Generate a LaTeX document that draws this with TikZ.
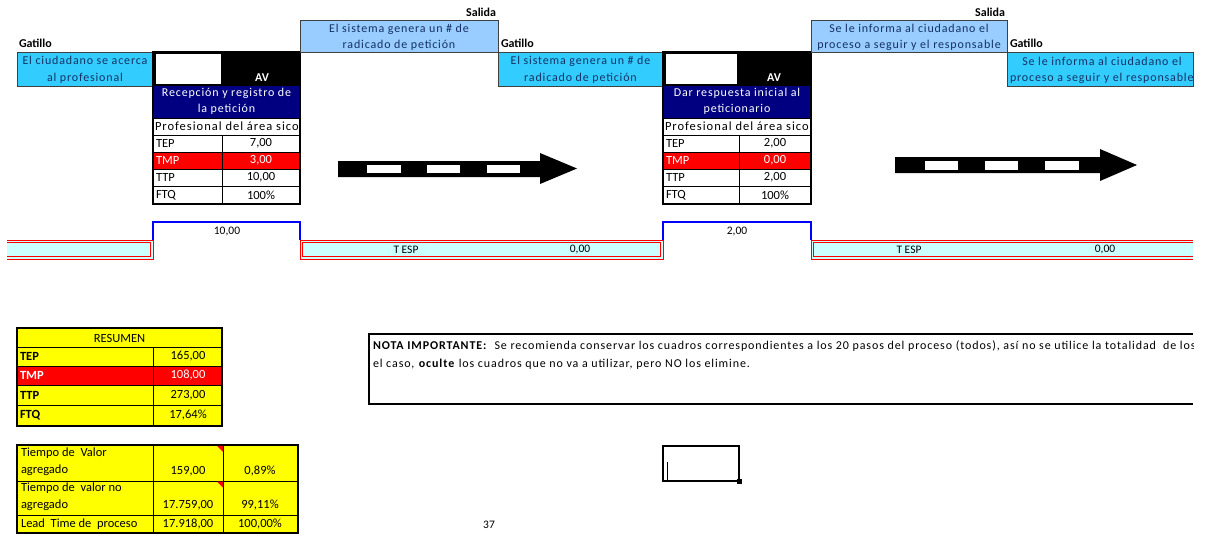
\documentclass[tikz,border=0pt]{standalone}
\usepackage{fontspec}
\setmainfont{Carlito}
\newfontfamily\lsfont[LetterSpace=7]{Carlito}
\newfontfamily\proffont[LetterSpace=8]{Carlito}
\newfontfamily\notefont[LetterSpace=7.5]{Carlito}
\definecolor{trig}{RGB}{51,204,255}
\definecolor{salc}{RGB}{153,204,255}
\definecolor{navyc}{RGB}{0,0,128}
\definecolor{tesp}{RGB}{204,255,255}
\definecolor{boxtxt}{RGB}{20,50,100}
\definecolor{gborder}{RGB}{64,64,64}
\definecolor{ylw}{RGB}{255,255,0}
\definecolor{bblue}{RGB}{0,0,255}
\tikzset{
  every node/.style={inner sep=0pt, outer sep=0pt},
  gat/.style={font=\fontsize{12}{14}\selectfont\bfseries, anchor=west},
  saltxt/.style={font=\fontsize{12}{14}\selectfont\bfseries, anchor=east},
  btxt/.style={font=\lsfont\fontsize{12}{16.5}\selectfont, align=center, text=boxtxt},
  wtxt/.style={font=\lsfont\fontsize{12}{16}\selectfont, align=center, text=white},
  avtxt/.style={font=\fontsize{12}{14}\selectfont\bfseries, text=white},
  proftxt/.style={font=\proffont\fontsize{12.5}{14}\selectfont, anchor=west},
  ctxt/.style={font=\fontsize{12.5}{14}\selectfont},
  tctxt/.style={font=\fontsize{11.5}{14}\selectfont},
  ltxt/.style={font=\fontsize{12.5}{14}\selectfont, anchor=west},
  rtxt/.style={font=\fontsize{12.5}{14}\selectfont, text=white},
  rltxt/.style={font=\fontsize{12.5}{14}\selectfont, anchor=west, text=white},
  bltxt/.style={font=\fontsize{12.5}{14}\selectfont\bfseries, anchor=west},
  notetxt/.style={font=\notefont\fontsize{12}{14}\selectfont, anchor=west},
  boxline/.style={draw=gborder, line width=0.8},
  gridline/.style={line width=0.8, draw=black},
  frameline/.style={line width=1.6, draw=black},
  redline/.style={draw=red, line width=0.7},
  blueline/.style={draw=bblue, line width=2.2},
}
\newcommand\procframe[4]{%
  \fill[black] (#1,52) rectangle (#4,86);
  \draw[black, fill=white, line width=0.6] (#1+2,53.5) rectangle (#2,84.5);
  \fill[navyc] (#1,86) rectangle (#4,118);
  \fill[red] (#1,152) rectangle (#4,169);
  \foreach \yy in {118,135,152,169,186} \draw[gridline] (#1,\yy) -- (#4,\yy);
  \draw[gridline] (#3,135) -- (#3,204);
  \draw[frameline] (#1,52) rectangle (#4,204);
}
\begin{document}
\begin{tikzpicture}[x=1pt,y=-1pt]
\useasboundingbox (0,0) rectangle (1230,538);
\fill[white] (0,0) rectangle (1230,538);

% ---------- Step 1 trigger ----------
\node[gat] (g1) at (19,43) {Gatillo};
\draw[boxline, fill=trig] (17,52) rectangle (153,86);
\node[btxt] (t1) at (85,70) {El ciudadano se acerca\\al profesional};

% ---------- Process block 1 ----------
\procframe{153}{221}{222}{300}
\node[avtxt] (av1) at (262,78) {AV};
\node[wtxt] (p1) at (226.5,101.5) {Recepción y registro de\\la petición};
\begin{scope}
  \clip (153,118) rectangle (299,135);
  \node[proftxt] (r1) at (155,126.5) {Profesional del área sicosocial};
\end{scope}
\node[ltxt] (tep1l) at (156,143.5) {TEP};
\node[ctxt] (tep1v) at (261,143.5) {7,00};
\node[rltxt] (tmp1l) at (156,160.5) {TMP};
\node[rtxt] (tmp1v) at (261,160.5) {3,00};
\node[ltxt] (ttp1l) at (156,177.5) {TTP};
\node[ctxt] (ttp1v) at (261,177.5) {10,00};
\node[ltxt] (ftq1l) at (156,195) {FTQ};
\node[ctxt] (ftq1v) at (261,195) {100\%};

% ---------- Salida 1 / Trigger 2 ----------
\node[saltxt] (s1) at (496,12) {Salida};
\draw[boxline, fill=salc] (300,20) rectangle (498,52);
\node[btxt] (so1) at (399,37.5) {El sistema genera un \# de\\radicado de petición};
\node[gat] (g2) at (501,43) {Gatillo};
\draw[boxline, fill=trig] (498,52) rectangle (663,86);
\node[btxt] (t2) at (580.5,70) {El sistema genera un \# de\\radicado de petición};

% ---------- Arrow 1 ----------
\fill[black] (338,161) -- (540,161) -- (540,153) -- (577,168.5) -- (540,184) -- (540,177) -- (338,177) -- cycle;
\foreach \xa/\xb in {367/401,427/460,487/520} \fill[white] (\xa,164.5) rectangle (\xb,173);

% ---------- Process block 2 ----------
\procframe{663}{737}{739}{811}
\node[avtxt] (av2) at (774,78) {AV};
\node[wtxt] (p2) at (737,101.5) {Dar respuesta inicial al\\peticionario};
\begin{scope}
  \clip (663,118) rectangle (810,135);
  \node[proftxt] (r2) at (665,126.5) {Profesional del área sicosocial};
\end{scope}
\node[ltxt] (tep2l) at (666,143.5) {TEP};
\node[ctxt] (tep2v) at (775,143.5) {2,00};
\node[rltxt] (tmp2l) at (666,160.5) {TMP};
\node[rtxt] (tmp2v) at (775,160.5) {0,00};
\node[ltxt] (ttp2l) at (666,177.5) {TTP};
\node[ctxt] (ttp2v) at (775,177.5) {2,00};
\node[ltxt] (ftq2l) at (666,195) {FTQ};
\node[ctxt] (ftq2v) at (775,195) {100\%};

% ---------- Salida 2 / Trigger 3 ----------
\node[saltxt] (s2) at (1005,12) {Salida};
\draw[boxline, fill=salc] (811,20) rectangle (1007,52);
\node[btxt] (so2) at (909,37.5) {Se le informa al ciudadano el\\proceso a seguir y el responsable};
\node[gat] (g3) at (1010,43) {Gatillo};
\draw[boxline, fill=trig] (1007,52) rectangle (1193,86);
\begin{scope}
  \clip (1007,52) rectangle (1192,86);
  \node[btxt] (t3a) at (1102,61.5) {Se le informa al ciudadano el};
  \node[btxt, anchor=west] (t3b) at (1010,78) {proceso a seguir y el responsable};
\end{scope}

% ---------- Arrow 2 ----------
\fill[black] (895,157) -- (1100,157) -- (1100,149) -- (1137,165) -- (1100,181) -- (1100,173) -- (895,173) -- cycle;
\foreach \xa/\xb in {925/958,985/1018,1045/1079} \fill[white] (\xa,160.5) rectangle (\xb,169.5);

% ---------- Timeline ----------
\fill[tesp] (7,240) rectangle (153,259);
\draw[redline] (7,240) -- (153,240) -- (153,259) -- (7,259);
\draw[redline] (7,242.5) -- (150.5,242.5) -- (150.5,256.5) -- (7,256.5);
\fill[tesp] (300,240) rectangle (663,259);
\draw[redline] (300,240) rectangle (663,259);
\draw[redline] (302.5,242.5) rectangle (660.5,256.5);
\fill[tesp] (811,240) rectangle (1193,259);
\draw[redline] (1193,240) -- (811,240) -- (811,259) -- (1193,259);
\draw[redline] (1193,242.5) -- (813.5,242.5) -- (813.5,256.5) -- (1193,256.5);

\coordinate (a1) at (153,240); \coordinate (a2) at (153,222);
\coordinate (a3) at (300,222); \coordinate (a4) at (300,240);
\draw[blueline] (a1) -- (a2) -- (a3) -- (a4);
\coordinate (b1) at (663,240); \coordinate (b2) at (663,222);
\coordinate (b3) at (811,222); \coordinate (b4) at (811,240);
\draw[blueline] (b1) -- (b2) -- (b3) -- (b4);
\node[tctxt] (v1) at (227,232) {10,00};
\node[tctxt] (v2) at (737,232) {2,00};
\node[tctxt] (te1) at (406,249.5) {T ESP};
\node[tctxt] (tv1) at (580,249.5) {0,00};
\node[tctxt] (te2) at (909,249.5) {T ESP};
\node[tctxt] (tv2) at (1105,249.5) {0,00};

% ---------- RESUMEN table ----------
\fill[ylw] (17,328) rectangle (222,426);
\fill[red] (17,366) rectangle (222,385);
\foreach \yy in {347,366,385,405} \draw[gridline] (17,\yy) -- (222,\yy);
\draw[gridline] (153,347) -- (153,426);
\draw[frameline] (17,328) rectangle (222,426);
\node[ctxt] (res) at (119.5,338) {RESUMEN};
\node[bltxt] (rtep) at (20,356.5) {TEP};
\node[ctxt] (rtepv) at (188,356.5) {165,00};
\node[bltxt, text=white] (rtmp) at (20,375.5) {TMP};
\node[rtxt] (rtmpv) at (188,375.5) {108,00};
\node[bltxt] (rttp) at (20,395) {TTP};
\node[ctxt] (rttpv) at (188,395) {273,00};
\node[bltxt] (rftq) at (20,415.5) {FTQ};
\node[ctxt] (rftqv) at (188,415.5) {17,64\%};

% ---------- Value table ----------
\fill[ylw] (17,445) rectangle (298,533);
\draw[gridline] (17,481) -- (298,481);
\draw[gridline] (17,515) -- (298,515);
\draw[gridline] (153,445) -- (153,533);
\draw[gridline] (223,445) -- (223,533);
\draw[frameline] (17,445) rectangle (298,533);
\fill[red] (223,445.8) -- (217,445.8) -- (223,451.8) -- cycle;
\fill[red] (223,481.5) -- (217,481.5) -- (223,487.5) -- cycle;
\node[ltxt] (va1) at (21,453.5) {Tiempo de\ \ Valor};
\node[ltxt] (va2) at (21,470.5) {agregado};
\node[ctxt] (va3) at (188,471) {159,00};
\node[ctxt] (va4) at (260,471) {0,89\%};
\node[ltxt] (vn1) at (21,488) {Tiempo de\ \ valor no};
\node[ltxt] (vn2) at (21,505) {agregado};
\node[ctxt] (vn3) at (188,505.5) {17.759,00};
\node[ctxt] (vn4) at (260,505.5) {99,11\%};
\node[ltxt] (lt1) at (21,524) {Lead\ \ Time de\ \ proceso};
\node[ctxt] (lt2) at (188,524) {17.918,00};
\node[ctxt] (lt3) at (260,524) {100,00\%};

% ---------- Note box ----------
\draw[line width=2] (1193,334) -- (369,334) -- (369,404) -- (1193,404);
\begin{scope}
  \clip (365,330) rectangle (1193,410);
  \node[notetxt] (n1) at (373,346.5) {\textbf{NOTA IMPORTANTE:}\ \ Se recomienda conservar los cuadros correspondientes a los 20 pasos del proceso (todos), así no se utilice la totalidad\ \ de los};
  \node[notetxt] (n2) at (373,364.5) {el caso, \textbf{oculte} los cuadros que no va a utilizar, pero NO los elimine.};
\end{scope}

% ---------- Selected cell ----------
\draw[line width=2] (663,446) rectangle (739,481);
\fill[black] (736.5,478.5) rectangle (741.5,483.5);
\draw[line width=0.6] (667,462) -- (667,480);

% ---------- Page number ----------
\node[tctxt] (pg) at (489,525) {37};
\end{tikzpicture}
\end{document}
